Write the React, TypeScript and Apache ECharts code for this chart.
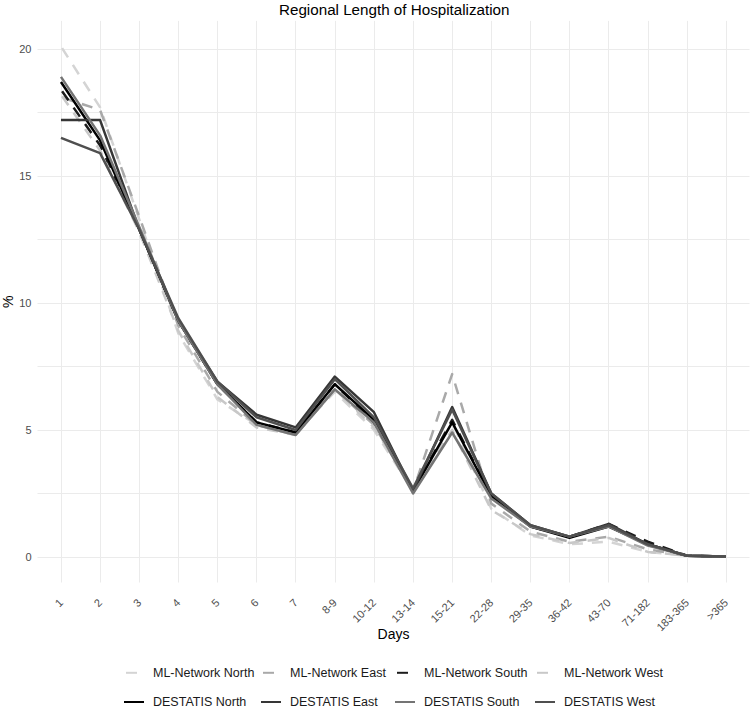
import React, { useEffect, useRef } from "react";
import * as echarts from "echarts";

// Length-of-stay categories (days)
const categories = ["1", "2", "3", "4", "5", "6", "7", "8-9", "10-12", "13-14", "15-21", "22-28", "29-35", "36-42", "43-70", "71-182", "183-365", ">365"];

// Share of cases (%) per category
const mlNorth = [20.1, 17.7, 13.3, 8.8, 6.2, 5.2, 4.9, 6.5, 5.0, 2.6, 5.3, 1.9, 0.85, 0.5, 0.6, 0.2, 0.05, 0.02];
const mlEast = [18.1, 17.6, 13.4, 9.1, 6.5, 5.2, 4.8, 6.6, 5.2, 2.6, 7.2, 2.1, 1.0, 0.6, 0.8, 0.3, 0.05, 0.02];
const mlSouth = [18.4, 16.2, 12.9, 9.3, 6.8, 5.3, 4.9, 6.8, 5.3, 2.6, 5.4, 2.4, 1.2, 0.8, 1.3, 0.6, 0.05, 0.02];
const mlWest = [18.2, 16.0, 12.8, 8.9, 6.3, 5.1, 4.8, 6.6, 5.1, 2.7, 5.0, 1.85, 0.9, 0.55, 0.75, 0.2, 0.05, 0.02];
const destatisNorth = [18.7, 16.4, 12.9, 9.3, 6.8, 5.3, 4.9, 6.8, 5.4, 2.6, 5.3, 2.4, 1.2, 0.75, 1.2, 0.5, 0.05, 0.02];
const destatisEast = [17.2, 17.2, 12.9, 9.3, 6.9, 5.6, 5.1, 7.1, 5.7, 2.6, 5.9, 2.5, 1.25, 0.8, 1.3, 0.5, 0.05, 0.02];
const destatisSouth = [18.9, 16.6, 13.0, 9.3, 6.8, 5.2, 4.8, 6.6, 5.3, 2.5, 4.9, 2.3, 1.2, 0.8, 1.2, 0.45, 0.05, 0.02];
const destatisWest = [16.5, 15.9, 12.9, 9.4, 6.9, 5.5, 5.0, 7.0, 5.5, 2.7, 5.8, 2.5, 1.25, 0.8, 1.25, 0.5, 0.05, 0.02];

const yLabelTicks = [0, 5, 10, 15, 20];
const yGridTicks = [0, 2.5, 5, 7.5, 10, 12.5, 15, 17.5, 20];

const FONT = "Liberation Sans, Arial, Helvetica, sans-serif";

const seriesDefs = [
  { name: "ML-Network North", values: mlNorth, color: "#d4d4d4", dashed: true },
  { name: "ML-Network East", values: mlEast, color: "#a9a9a9", dashed: true },
  { name: "ML-Network South", values: mlSouth, color: "#1c1c1c", dashed: true },
  { name: "ML-Network West", values: mlWest, color: "#c8c8c8", dashed: true },
  { name: "DESTATIS North", values: destatisNorth, color: "#000000", dashed: false },
  { name: "DESTATIS East", values: destatisEast, color: "#363636", dashed: false },
  { name: "DESTATIS South", values: destatisSouth, color: "#747474", dashed: false },
  { name: "DESTATIS West", values: destatisWest, color: "#4f4f4f", dashed: false },
];

// Legend grid: four columns, two rows (network row, DESTATIS row)
const legendColumnLefts = [123, 260, 394, 534];
const legendRowTops = [666.3, 695.5];

export default function App() {
  const ref = useRef<HTMLDivElement>(null);

  useEffect(() => {
    if (!ref.current) return;
    const chart = echarts.init(ref.current, null, { renderer: "svg" });

    const series = seriesDefs.map((s) => ({
      name: s.name,
      type: "line",
      data: s.values.map((v, i) => [i, v]),
      showSymbol: false,
      symbol: "none",
      color: s.color,
      lineStyle: {
        color: s.color,
        width: 2.5,
        type: s.dashed ? [11, 9] : "solid",
        dashOffset: s.dashed ? -2 : 0,
        cap: "butt",
        join: "round",
      },
      emphasis: { disabled: true },
      z: 3,
    }));

    const legends = seriesDefs.map((s, k) => ({
      orient: "horizontal",
      left: legendColumnLefts[k % 4],
      top: legendRowTops[Math.floor(k / 4)],
      padding: 0,
      itemWidth: 20,
      itemHeight: 14,
      data: [s.name],
      selectedMode: false,
      itemStyle: { opacity: 0 },
      textStyle: { fontFamily: FONT, fontSize: 12.5, color: "#1a1a1a", padding: [0, 0, 0, 4] },
    }));

    chart.setOption({
      animation: false,
      backgroundColor: "#ffffff",
      title: {
        text: "Regional Length of Hospitalization",
        left: 279,
        top: 2,
        padding: 0,
        textStyle: { fontFamily: FONT, fontSize: 15.2, fontWeight: "normal", color: "#000000" },
      },
      legend: legends,
      grid: {
        left: 37.5,
        right: 0.5,
        top: 20.9,
        bottom: 125.5,
        containLabel: false,
        outerBoundsMode: "none",
      },
      xAxis: {
        type: "value",
        min: -0.6,
        max: categories.length - 1 + 0.6,
        name: "Days",
        nameLocation: "middle",
        nameGap: 44.5,
        nameMoveOverlap: false,
        nameTextStyle: { fontFamily: FONT, fontSize: 14, color: "#000000" },
        axisLine: { show: false },
        axisTick: { show: false, customValues: categories.map((_, i) => i) },
        axisLabel: {
          customValues: categories.map((_, i) => i),
          formatter: (v: number) => categories[Math.round(v)] ?? "",
          rotate: 45,
          margin: 18,
          fontFamily: FONT,
          fontSize: 11,
          color: "#4d4d4d",
        },
        splitLine: { show: true, lineStyle: { color: "#ebebeb", width: 1 } },
      },
      yAxis: {
        type: "value",
        min: -1.005,
        max: 21.105,
        name: "%",
        nameLocation: "middle",
        nameRotate: 90,
        nameGap: 23,
        nameMoveOverlap: false,
        nameTextStyle: { fontFamily: FONT, fontSize: 14, color: "#000000" },
        axisLine: { show: false },
        axisTick: { show: false, customValues: yGridTicks },
        axisLabel: {
          customValues: yLabelTicks,
          margin: 6,
          fontFamily: FONT,
          fontSize: 11,
          color: "#4d4d4d",
        },
        splitLine: { show: true, lineStyle: { color: "#ebebeb", width: 1 } },
      },
      series,
    });

    return () => chart.dispose();
  }, []);

  return <div ref={ref} style={{ width: 750, height: 708, position: "absolute", left: 0, top: 0 }} />;
}
